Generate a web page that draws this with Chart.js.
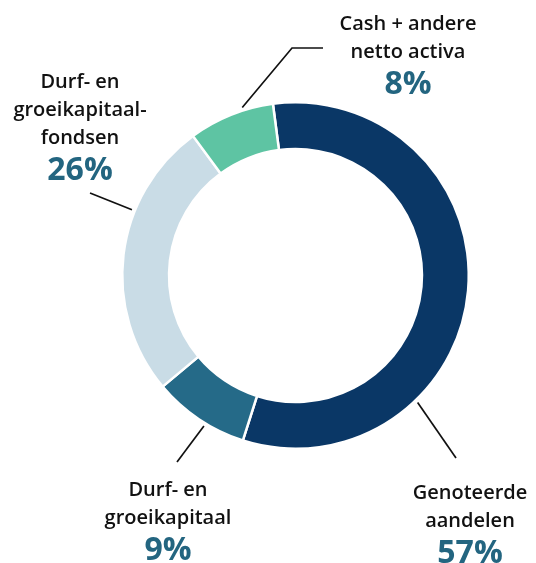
<!DOCTYPE html>
<html>
<head>
<meta charset="utf-8">
<script src="https://cdn.jsdelivr.net/npm/chart.js@4"></script>
<style>
  html, body { margin: 0; padding: 0; background: #fff; }
  #wrap { width: 536px; height: 563px; }
</style>
</head>
<body>
<div id="wrap"><canvas id="_canvasc"></canvas></div>
<script>
// ******************************************************** DATA
var categories = ['Genoteerde aandelen', 'Durf- en groeikapitaal', 'Durf- en groeikapitaalfondsen', 'Cash + andere netto activa'];
var labelLines = [['Genoteerde', 'aandelen'], ['Durf- en', 'groeikapitaal'], ['Durf- en', 'groeikapitaal-', 'fondsen'], ['Cash + andere', 'netto activa']];
var shares = [57, 9, 26, 8];
var sliceColors = ['#0a3766', '#256a88', '#c9dce6', '#5ec4a3'];

// where each label sits, and where its leader line starts on the ring (fraction of the slice)
var labelLayout = [
    { at: 0.70, path: [[456, 458]], x: 470, y: 493 },
    { at: 0.42, path: [[177, 462]], x: 168, y: 490 },
    { at: 0.66, path: [[90, 193]], x: 80, y: 82 },
    { at: 0.65, path: [[292, 48], [323, 48]], x: 408, y: 24 }
];

// ******************************************************** LABELS
var outsideLabels = {
    id: 'outsideLabels',
    afterDatasetsDraw: function (chart) {
        var ctx = chart.ctx;
        var meta = chart.getDatasetMeta(0);
        meta.data.forEach(function (arc, i) {
            var lay = labelLayout[i];
            var p = arc.getProps(['x', 'y', 'startAngle', 'endAngle', 'outerRadius'], true);
            var a = p.startAngle + (p.endAngle - p.startAngle) * lay.at;
            var r = p.outerRadius + 3;
            ctx.save();
            ctx.strokeStyle = '#111';
            ctx.lineWidth = 1.7;
            ctx.beginPath();
            ctx.moveTo(p.x + Math.cos(a) * r, p.y + Math.sin(a) * r);
            lay.path.forEach(function (pt) { ctx.lineTo(pt[0], pt[1]); });
            ctx.stroke();

            ctx.textAlign = 'center';
            ctx.textBaseline = 'middle';
            ctx.fillStyle = '#111';
            ctx.font = '600 20px "Open Sans", Lato, sans-serif';
            var lines = labelLines[i];
            lines.forEach(function (t, k) {
                ctx.fillText(t, lay.x, lay.y + k * 28);
            });
            ctx.fillStyle = '#236580';
            ctx.font = '700 32px "Open Sans", Lato, sans-serif';
            ctx.fillText(shares[i] + '%', lay.x, lay.y + (lines.length - 1) * 28 + 33);
            ctx.restore();
        });
    }
};

// ******************************************************** CHART
var config = {
    type: 'doughnut',
    data: {
        labels: categories,
        datasets: [{
            data: shares,
            backgroundColor: sliceColors,
            borderColor: '#ffffff',
            borderWidth: 2.5,
            hoverOffset: 0
        }]
    },
    options: {
        responsive: true,
        maintainAspectRatio: false,
        animation: false,
        rotation: -7.5,
        cutout: '73%',
        layout: { padding: { left: 121, right: 66, top: 101, bottom: 113 } },
        plugins: {
            legend: { display: false },
            tooltip: { enabled: false }
        }
    },
    plugins: [outsideLabels]
};

window.myDoughnut = new Chart(document.getElementById('_canvasc'), config);
</script>
</body>
</html>
